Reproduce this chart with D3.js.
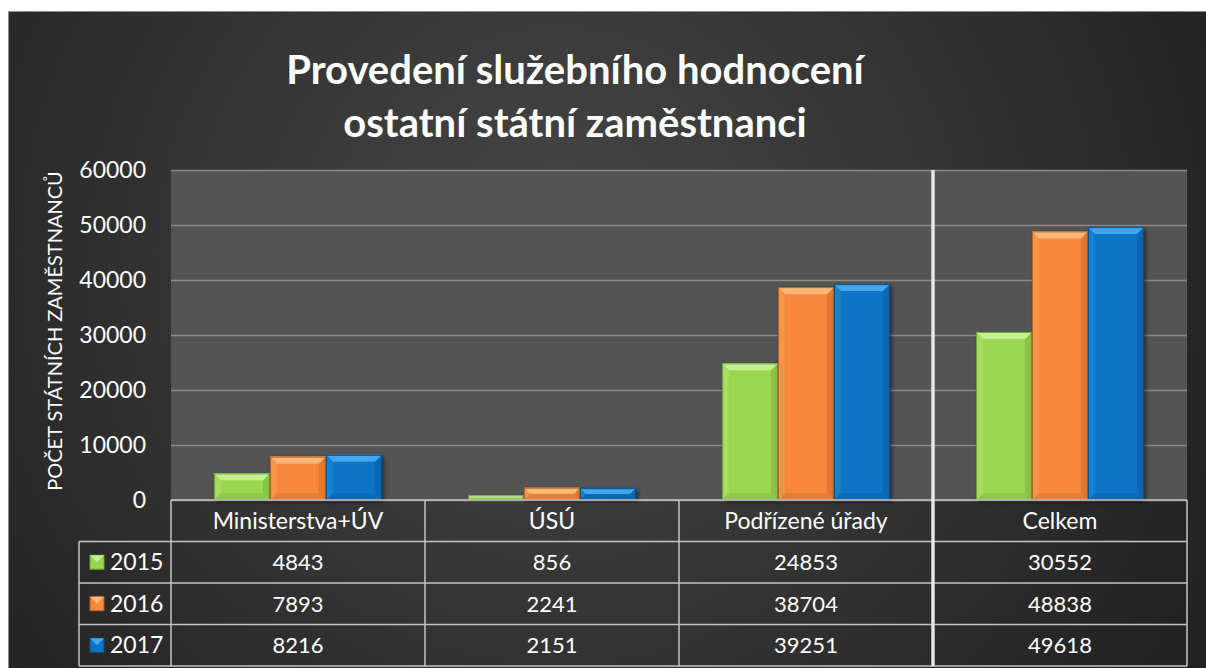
<!DOCTYPE html>
<html>
<head>
<meta charset="utf-8">
<script src="https://cdn.jsdelivr.net/npm/d3@7"></script>
<style>
  body { margin: 0; background: #fff; }
  svg { display: block; }
  text { font-family: Lato, "Open Sans", sans-serif; fill: #fff; }
</style>
</head>
<body>
<div id="graf"></div>
<script>
// Datos
const categorias = ["Ministerstva+ÚV", "ÚSÚ", "Podřízené úřady", "Celkem"]
const anos = ["2015", "2016", "2017"]
const valores2015 = [4843, 856, 24853, 30552]
const valores2016 = [7893, 2241, 38704, 48838]
const valores2017 = [8216, 2151, 39251, 49618]
const ticksY = [0, 10000, 20000, 30000, 40000, 50000, 60000]
const colores = ["#9bd651", "#f7883a", "#0b74c8"]
const coloresClaros = ["#c6ef8f", "#fbb77c", "#45a6ec"]
const coloresOscuros = ["#6e9e34", "#b85e20", "#06508e"]

const series = [valores2015, valores2016, valores2017]

// Dimensiones
const anchoTotal = 1206
const altoTotal = 668
const margins = { top: 170, right: 19, bottom: 168, left: 171 }
const ancho = anchoTotal - margins.left - margins.right
const alto = altoTotal - margins.top - margins.bottom
const altoFila = 41.5

const svg = d3.select("#graf")
  .append("svg")
  .attr("width", anchoTotal)
  .attr("height", altoTotal)

const defs = svg.append("defs")

const grad = defs.append("radialGradient")
  .attr("id", "fondo")
  .attr("gradientUnits", "userSpaceOnUse")
  .attr("cx", 560).attr("cy", 260).attr("r", 720)
grad.append("stop").attr("offset", "0%").attr("stop-color", "#474747")
grad.append("stop").attr("offset", "100%").attr("stop-color", "#222")

const sombra = defs.append("filter").attr("id", "sombra")
  .attr("x", "-20%").attr("y", "-20%").attr("width", "140%").attr("height", "140%")
sombra.append("feDropShadow")
  .attr("dx", 2).attr("dy", 2).attr("stdDeviation", 2)
  .attr("flood-color", "#000").attr("flood-opacity", 0.5)

// Fondo
svg.append("rect")
  .attr("x", 8.5).attr("y", 11.5)
  .attr("width", anchoTotal).attr("height", altoTotal)
  .attr("fill", "url(#fondo)")
  .attr("stroke", "#8c8c8c")

// Título
svg.append("text")
  .attr("x", 575).attr("y", 84)
  .attr("text-anchor", "middle")
  .attr("font-size", 40).attr("font-weight", "bold")
  .text("Provedení služebního hodnocení")
svg.append("text")
  .attr("x", 575).attr("y", 137)
  .attr("text-anchor", "middle")
  .attr("font-size", 40).attr("font-weight", "bold")
  .text("ostatní státní zaměstnanci")

const g = svg.append("g")
  .attr("transform", `translate(${margins.left}, ${margins.top})`)

g.append("rect")
  .attr("width", ancho).attr("height", alto)
  .attr("fill", "#545454")

// Escaladores
const y = d3.scaleLinear().domain([0, 60000]).range([alto, 0])
const x0 = d3.scaleBand().domain(categorias).range([0, ancho])
const x1 = d3.scaleBand().domain(anos).range([0, x0.bandwidth()]).paddingOuter(0.77)

// Rejilla
g.append("g")
  .call(d3.axisLeft(y).tickValues(ticksY).tickSize(-ancho).tickFormat(""))
  .call(s => s.select(".domain").remove())
  .call(s => s.selectAll("line").attr("stroke", "#8a8a8a").attr("stroke-width", 1.5))

// Eje Y
g.append("g")
  .call(d3.axisLeft(y).tickValues(ticksY).tickSize(0).tickPadding(25).tickFormat(d3.format("d")))
  .call(s => s.select(".domain").remove())
  .call(s => s.selectAll("text").attr("font-size", 23).attr("fill", "#fff"))

svg.append("text")
  .attr("transform", `translate(62, ${margins.top + alto / 2 - 4}) rotate(-90)`)
  .attr("text-anchor", "middle")
  .attr("font-size", 20)
  .text("POČET STÁTNÍCH ZAMĚSTNANCŮ")

// Barras con bisel
const barras = []
categorias.forEach((c, i) => {
  anos.forEach((a, j) => {
    barras.push({ c, a, j, v: series[j][i] })
  })
})

const grupoBarras = g.selectAll(".barra")
  .data(barras)
  .enter()
  .append("g")
  .attr("class", "barra")
  .attr("filter", "url(#sombra)")

grupoBarras.each(function (d) {
  const sel = d3.select(this)
  const bx = x0(d.c) + x1(d.a)
  const bw = x1.bandwidth()
  const by = y(d.v)
  const bh = alto - by
  const b = Math.min(7, bh / 2, bw / 2)
  sel.append("rect")
    .attr("x", bx).attr("y", by).attr("width", bw).attr("height", bh)
    .attr("fill", colores[d.j])
  // lado derecho oscuro
  sel.append("polygon")
    .attr("points", [[bx + bw, by], [bx + bw, by + bh], [bx + bw - b, by + bh - b], [bx + bw - b, by + b]].join(" "))
    .attr("fill", coloresOscuros[d.j]).attr("opacity", 0.35)
  // lado izquierdo
  sel.append("polygon")
    .attr("points", [[bx, by], [bx, by + bh], [bx + b, by + bh - b], [bx + b, by + b]].join(" "))
    .attr("fill", coloresClaros[d.j]).attr("opacity", 0.25)
  // abajo
  sel.append("polygon")
    .attr("points", [[bx, by + bh], [bx + bw, by + bh], [bx + bw - b, by + bh - b], [bx + b, by + bh - b]].join(" "))
    .attr("fill", coloresOscuros[d.j]).attr("opacity", 0.25)
  // arriba claro
  sel.append("polygon")
    .attr("points", [[bx, by], [bx + bw, by], [bx + bw - b, by + b], [bx + b, by + b]].join(" "))
    .attr("fill", coloresClaros[d.j])
  sel.append("rect")
    .attr("x", bx + 0.5).attr("y", by + 0.5).attr("width", bw - 1).attr("height", Math.max(0, bh - 1))
    .attr("fill", "none").attr("stroke", coloresOscuros[d.j]).attr("stroke-width", 1)
})

// Tabla de datos
const tabla = svg.append("g")
  .attr("transform", `translate(0, ${margins.top + alto})`)

const lineaTabla = (x1p, y1p, x2p, y2p) => tabla.append("line")
  .attr("x1", x1p).attr("y1", y1p).attr("x2", x2p).attr("y2", y2p)
  .attr("stroke", "#c4c4c4").attr("stroke-width", 1.5)

const leyendaX = 79
lineaTabla(margins.left, 0, margins.left + ancho, 0)
for (let r = 1; r <= anos.length + 1; r++) {
  lineaTabla(leyendaX, altoFila * r, margins.left + ancho, altoFila * r)
}
lineaTabla(leyendaX, altoFila, leyendaX, altoFila * 4)
categorias.forEach((c, i) => {
  lineaTabla(margins.left + x0(c), 0, margins.left + x0(c), altoFila * 4)
})
lineaTabla(margins.left + ancho, 0, margins.left + ancho, altoFila * 4)

// Separador blanco antes de "Celkem"
svg.append("line")
  .attr("x1", margins.left + x0("Celkem")).attr("x2", margins.left + x0("Celkem"))
  .attr("y1", margins.top).attr("y2", margins.top + alto + altoFila * 4)
  .attr("stroke", "#e6e6e6").attr("stroke-width", 3.5)

// Encabezados
tabla.selectAll(".cat")
  .data(categorias)
  .enter()
  .append("text")
  .attr("x", (d) => margins.left + x0(d) + x0.bandwidth() / 2)
  .attr("y", altoFila / 2 + 8)
  .attr("text-anchor", "middle")
  .attr("font-size", 23)
  .text((d) => d)

// Filas
anos.forEach((a, j) => {
  const fy = altoFila * (j + 1)
  const ley = tabla.append("g")
  ley.append("rect")
    .attr("x", 90).attr("y", fy + altoFila / 2 - 7)
    .attr("width", 14).attr("height", 14)
    .attr("fill", colores[j]).attr("stroke", coloresOscuros[j])
  ley.append("polygon")
    .attr("points", [[90, fy + altoFila / 2 - 7], [104, fy + altoFila / 2 - 7], [97, fy + altoFila / 2]].join(" "))
    .attr("fill", coloresClaros[j])
  ley.append("text")
    .attr("x", 110).attr("y", fy + altoFila / 2 + 8)
    .attr("font-size", 23)
    .text(a)

  tabla.selectAll(".val" + a)
    .data(series[j])
    .enter()
    .append("text")
    .attr("x", (d, i) => margins.left + x0(categorias[i]) + x0.bandwidth() / 2)
    .attr("y", fy + altoFila / 2 + 8)
    .attr("text-anchor", "middle")
    .attr("font-size", 22)
    .text((d) => d)
})
</script>
</body>
</html>
